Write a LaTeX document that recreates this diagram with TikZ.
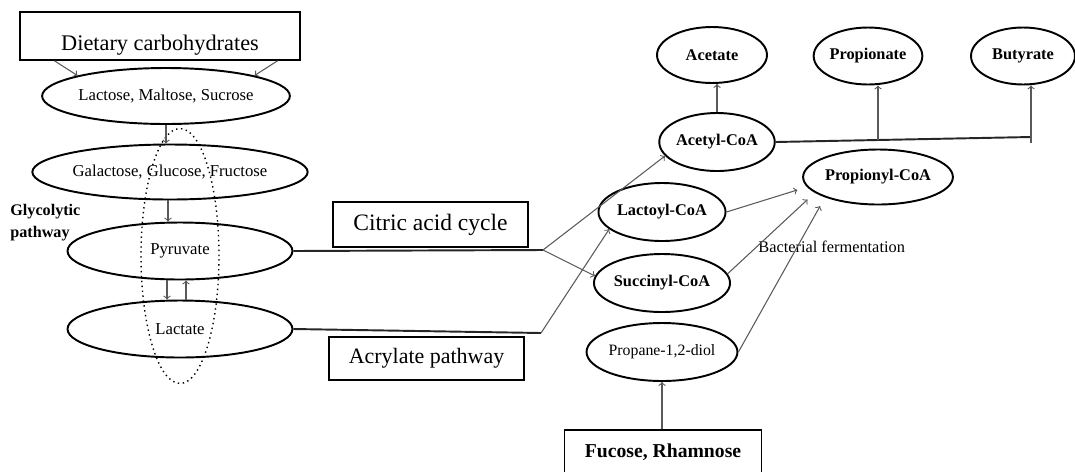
\documentclass[tikz,border=0pt]{standalone}
\usepackage{fontspec}
\setmainfont{Liberation Serif}
\usetikzlibrary{shapes.geometric}

\begin{document}
\begin{tikzpicture}[x=0.02cm, y=-0.02cm,
		oval/.style={draw, ellipse, line width=1.1pt, inner sep=0pt, minimum height=1.14cm},
		box/.style={draw, rectangle, line width=0.8pt, inner sep=0pt},
		sugar/.style={font=\fontsize{9.5}{11}\selectfont},
		acid/.style={font=\bfseries\fontsize{9.3}{11}\selectfont},
		thin arrow/.style={->, draw=black!65, line width=0.6pt},
		feed/.style={draw=black!85, line width=1.1pt}]
		\useasboundingbox (0, 0) rectangle (1075, 471);
		\clip (0, 0) rectangle (1075, 471);
		%\draw[gray, dotted] (0, 0) grid[step=50] (1075, 471);
		\node[box, minimum width=5.6cm, text height=0.76cm, text depth=0.2cm, inner ysep=0pt, font=\fontsize{12.7}{15}\selectfont] (diet) at (160, 36) {Dietary carbohydrates};
		\node[oval, sugar, minimum width=4.5cm, minimum height=1.12cm] (sugars) at (166, 96) {Lactose, Maltose, Sucrose};
		\node[oval, sugar, minimum width=4.48cm, minimum height=1.1cm] (monos) at (170, 172) {Galactose, Glucose, Fructose};
		\node[oval, sugar, minimum width=4.5cm] (pyruvate) at (180, 251) {Pyruvate};
		\node[oval, sugar, minimum width=4.5cm] (lactate) at (180, 329) {Lactate};
		\node[draw, dotted, ellipse, line width=0.8pt, minimum width=1.56cm, minimum height=5.1cm] (glyco) at (180, 256) {};
		\node[anchor = north west, align = left, inner sep=0pt, font=\bfseries\fontsize{9.2}{12.5}\selectfont] (glylabel) at (10, 204) {Glycolytic\\pathway};
		\node[box, minimum width=3.9cm, minimum height=0.9cm, font=\fontsize{13.4}{16}\selectfont] (citric) at (430.5, 224.5) {Citric acid cycle};
		\node[box, minimum width=3.9cm, minimum height=0.86cm, font=\fontsize{12.5}{15}\selectfont] (acrylate) at (426.5, 358.5) {Acrylate pathway};
		\node[oval, acid, minimum width=2.2cm, minimum height=1.12cm] (acetate) at (712, 55) {Acetate};
		\node[oval, acid, minimum width=2.14cm] (propionate) at (868, 56) {Propionate};
		\node[oval, acid, minimum width=2.08cm] (butyrate) at (1023, 56) {Butyrate};
		\node[oval, acid, minimum width=2.2cm, minimum height=1.16cm] (acetylcoa) at (717, 142) {Acetyl-CoA};
		\node[oval, acid, minimum width=2.2cm, minimum height=1.1cm] (propionyl) at (878, 177) {Propionyl-CoA};
		\node[oval, acid, minimum width=2.16cm, minimum height=1.16cm] (lactoyl) at (662, 212) {Lactoyl-CoA};
		\node[oval, acid, minimum width=2.16cm, minimum height=1.16cm] (succinyl) at (662, 283) {Succinyl-CoA};
		\node[oval, font=\fontsize{9}{11}\selectfont, minimum width=2.16cm, minimum height=1.16cm] (diol) at (662, 352) {Propane-1,2-diol};
		\node[box, minimum width=3.94cm, minimum height=0.9cm, font=\bfseries\fontsize{11.2}{13}\selectfont] (fucose) at (663, 452.5) {Fucose, Rhamnose};
		\node[anchor = base west, inner sep=0pt, font=\fontsize{9.3}{11}\selectfont] (ferment) at (758, 252) {Bacterial fermentation};
		\coordinate (citsplit) at (543, 250);
		\coordinate (acrsplit) at (541, 333);
		\coordinate (propjoin) at (878, 140);
		\coordinate (butjoin) at (1031, 137);
		\coordinate (butfoot) at (1031, 143);
		\draw[thin arrow] ([xshift=0.7cm]diet.south west) -- (sugars.167);
		\draw[thin arrow] ([xshift=-0.46cm]diet.south east) -- (sugars.13);
		\draw[thin arrow] (sugars.south) -- (sugars.south |- monos.north);
		\draw[thin arrow] ([xshift=-0.04cm]monos.south) -- ([xshift=-0.04cm]monos.south |- pyruvate.north);
		\draw[thin arrow] ([xshift=-0.26cm]pyruvate.south) -- ([xshift=-0.26cm]pyruvate.south |- lactate.north);
		\draw[thin arrow] ([xshift=0.12cm]lactate.north) -- ([xshift=0.12cm]lactate.north |- pyruvate.south);
		\draw[feed] (pyruvate.east) -- (citsplit);
		\draw[thin arrow] (citsplit) -- (acetylcoa.195);
		\draw[thin arrow] (citsplit) -- (succinyl.174);
		\draw[feed] (lactate.east) -- (acrsplit);
		\draw[thin arrow] (acrsplit) -- (lactoyl.198);
		\draw[thin arrow] (acetylcoa.north) -- (acetylcoa.north |- acetate.south);
		\draw[feed] (acetylcoa.east) -- (butjoin);
		\draw[thin arrow] (propjoin) -- (propjoin |- propionate.south);
		\draw[thin arrow] (butfoot) -- (butfoot |- butyrate.south);
		\draw[thin arrow, shorten >=0.2cm] (lactoyl.east) -- (propionyl.188);
		\draw[thin arrow, shorten >=0.2cm] (succinyl.8) -- (propionyl.194);
		\draw[thin arrow, shorten >=0.2cm] (diol.east) -- (propionyl.201);
		\draw[thin arrow] (diol.south |- fucose.north) -- (diol.south);
	\end{tikzpicture}
\end{document}
